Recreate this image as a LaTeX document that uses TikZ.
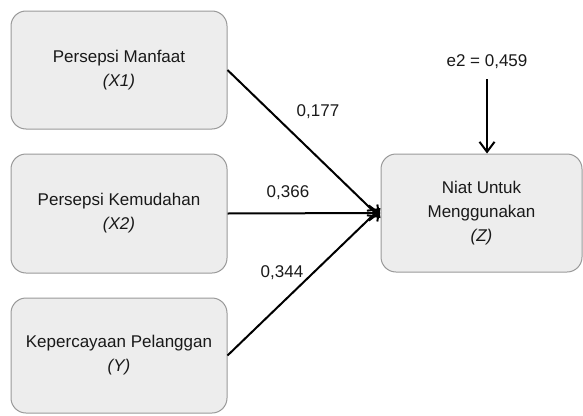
\documentclass[tikz,border=0pt]{standalone}
\usepackage{fontspec}
\setmainfont{Liberation Sans}
\usetikzlibrary{arrows.meta}
\tikzset{
  varbox/.style={draw=black!40, fill=black!7, line width=1pt, rounded corners=15pt,
    align=center, font=\fontsize{17}{24}\selectfont, text=black!90, inner sep=0pt},
  path arrow/.style={line width=2pt, -{Straight Barb[length=10pt,width=15pt,line width=2pt]}},
  coef/.style={font=\fontsize{17}{20}\selectfont, text=black!90, inner sep=0pt}
}
\begin{document}
\begin{tikzpicture}[x=1pt,y=-1pt]
\useasboundingbox (0,0) rectangle (583,415);
\node[varbox, minimum width=216pt, minimum height=118pt] (x1) at (119,70) {Persepsi Manfaat\\\textit{(X1)}};
\node[varbox, minimum width=216pt, minimum height=119pt] (x2) at (119,213.5) {Persepsi Kemudahan\\\textit{(X2)}};
\node[varbox, minimum width=216pt, minimum height=115pt] (y) at (119,355.5) {Kepercayaan Pelanggan\\\textit{(Y)}};
\node[varbox, minimum width=201pt, minimum height=118pt] (z) at (481.5,213) {Niat Untuk\\Menggunakan\\\textit{(Z)}};
\node[coef] (e2) at (487,62) {e2 = 0,459};
\coordinate (e2s) at (487,79);
\coordinate (z1) at ([yshift=-5pt]z.west);
\coordinate (z3) at ([yshift=5pt]z.west);
\draw[path arrow] (x1.east) -- (z1);
\draw[path arrow] (x2.east) -- (z.west);
\draw[path arrow] (y.east) -- (z3);
\draw[path arrow] (e2s) -- (z.north -| e2s);
\node[coef] (c1) at (318,112) {0,177};
\node[coef] (c2) at (288,193) {0,366};
\node[coef] (c3) at (282,273) {0,344};
\end{tikzpicture}
\end{document}
